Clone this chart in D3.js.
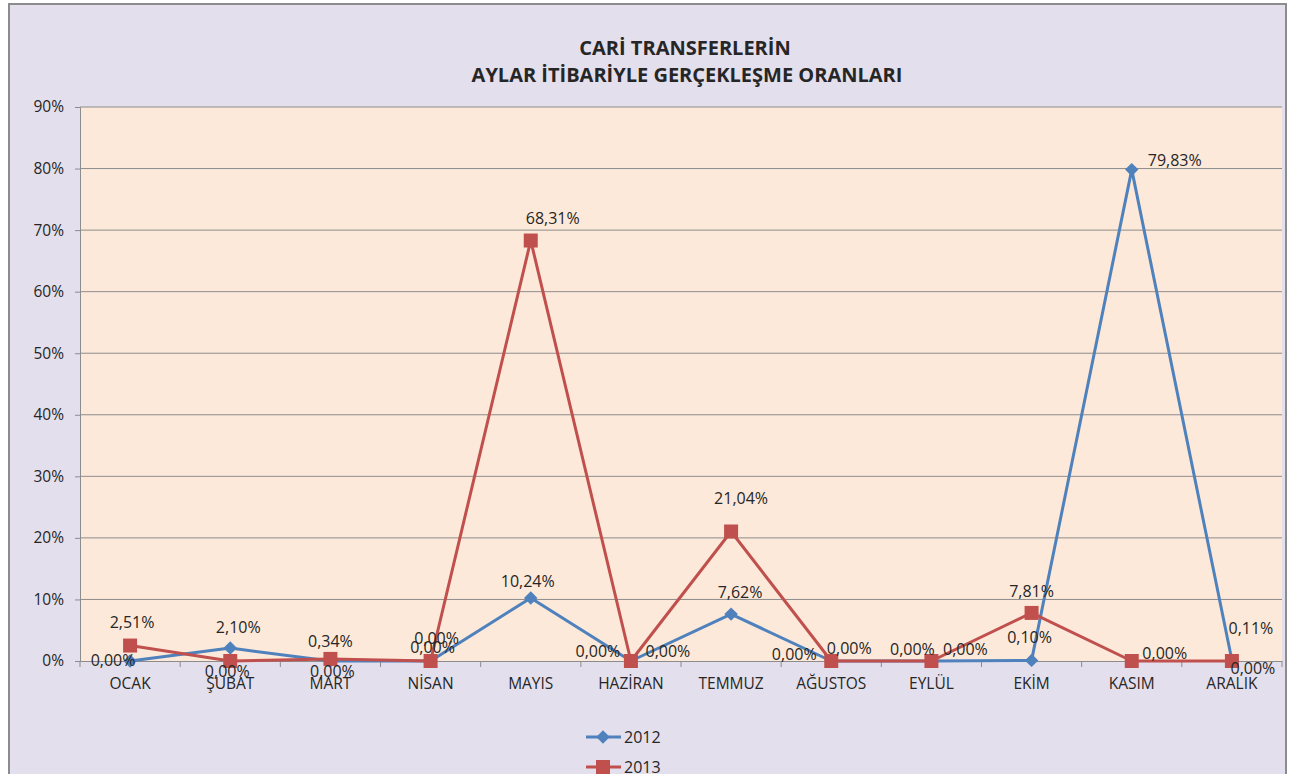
<!DOCTYPE html>
<html>
<head>
<meta charset="utf-8">
<script src="https://cdn.jsdelivr.net/npm/d3@7"></script>
<style>
  body { margin: 0; background: #fff; }
  svg text { font-family: "Open Sans", "Liberation Sans", sans-serif; fill: #262626; }
</style>
</head>
<body>
<svg id="chart" width="1296" height="774"></svg>
<script>
const months = ['OCAK', 'ŞUBAT', 'MART', 'NİSAN', 'MAYIS', 'HAZİRAN', 'TEMMUZ', 'AĞUSTOS', 'EYLÜL', 'EKİM', 'KASIM', 'ARALIK'];
const values2012 = [0.00, 2.10, 0.00, 0.00, 10.24, 0.00, 7.62, 0.00, 0.00, 0.10, 79.83, 0.11];
const values2013 = [2.51, 0.00, 0.34, 0.00, 68.31, 0.00, 21.04, 0.00, 0.00, 7.81, 0.00, 0.00];
const yTicks = [0, 10, 20, 30, 40, 50, 60, 70, 80, 90];

// label nudges (dx, dy of text middle from the marker), as the labels sit in the sheet
const labelNudge2012 = [[-17, -1], [8, -21], [2, 10], [2, -14], [-3, -17], [-33, -10],
                        [9, -22], [-37, -7], [-19, -12], [-2, -23], [43, -10], [19, -32]];
const labelNudge2013 = [[2, -24], [-3, 10], [0, -18], [6, -23], [22, -23], [37, -10],
                        [10, -33], [18, -13], [34, -12], [0, -22], [33, -8], [21, 7]];

const svg = d3.select('#chart');
const plot = { left: 80, right: 1282, top: 107, bottom: 661 };

// backgrounds
svg.append('rect').attr('x', 9).attr('y', 4).attr('width', 1277).attr('height', 800)
  .attr('fill', '#e4dfec').attr('stroke', '#8c8c8c').attr('stroke-width', 2);
svg.append('rect').attr('x', plot.left).attr('y', plot.top)
  .attr('width', plot.right - plot.left).attr('height', plot.bottom - plot.top)
  .attr('fill', '#fde9d9');

// title
const title = svg.append('text').attr('text-anchor', 'middle')
  .style('font-weight', 'bold').style('font-size', '20px');
title.append('tspan').attr('x', 685).attr('y', 55).text('CARİ TRANSFERLERİN');
title.append('tspan').attr('x', 687).attr('y', 82).text('AYLAR İTİBARİYLE GERÇEKLEŞME ORANLARI');

const x = d3.scaleBand().domain(months).range([plot.left, plot.right]);
const y = d3.scaleLinear().domain([0, 90]).range([plot.bottom, plot.top]);
const cx = m => x(m) + x.bandwidth() / 2;

// gridlines
svg.append('g').selectAll('line').data(yTicks.filter(d => d > 0)).join('line')
  .attr('x1', plot.left).attr('x2', plot.right)
  .attr('y1', d => y(d)).attr('y2', d => y(d))
  .attr('stroke', '#8c8c8c').attr('stroke-width', 1);

// y axis
const yAxis = svg.append('g').attr('transform', `translate(${plot.left},0)`)
  .call(d3.axisLeft(y).tickValues(yTicks).tickSize(5).tickPadding(11).tickFormat(d => d + '%'));
yAxis.select('.domain').attr('stroke', '#8c8c8c');
yAxis.selectAll('line').attr('stroke', '#8c8c8c');
yAxis.selectAll('text').style('font-size', '15.5px').style('font-family', '"Open Sans", sans-serif').attr('fill', '#262626');

// x axis
const xAxis = svg.append('g').attr('transform', `translate(0,${plot.bottom})`)
  .call(d3.axisBottom(x).tickSize(0).tickPadding(17));
xAxis.select('.domain').attr('stroke', '#8c8c8c');
xAxis.selectAll('text').style('font-size', '15.5px').style('font-family', '"Open Sans", sans-serif').attr('fill', '#262626');
xAxis.selectAll('line.sep').data(d3.range(months.length + 1)).join('line')
  .attr('class', 'sep')
  .attr('x1', i => plot.left + i * x.step()).attr('x2', i => plot.left + i * x.step())
  .attr('y1', 0).attr('y2', 6).attr('stroke', '#8c8c8c');

const series = [
  { name: '2012', values: values2012, color: '#4f81bd', marker: 'diamond', nudge: labelNudge2012 },
  { name: '2013', values: values2013, color: '#c0504d', marker: 'square', nudge: labelNudge2013 }
];

const line = d3.line().x((d, i) => cx(months[i])).y(d => y(d));

function drawMarker(g, s, px, py) {
  if (s.marker === 'diamond') {
    g.append('path').attr('d', d3.symbol().type(d3.symbolSquare).size(90)())
      .attr('transform', `translate(${px},${py}) rotate(45)`).attr('fill', s.color);
  } else {
    g.append('rect').attr('x', px - 7).attr('y', py - 7).attr('width', 14).attr('height', 14)
      .attr('fill', s.color);
  }
}

series.forEach(s => {
  svg.append('path').datum(s.values).attr('d', line)
    .attr('fill', 'none').attr('stroke', s.color).attr('stroke-width', 3)
    .attr('stroke-linejoin', 'round');
});
series.forEach(s => {
  const g = svg.append('g');
  s.values.forEach((v, i) => drawMarker(g, s, cx(months[i]), y(v)));
});

const fmt = v => v.toFixed(2).replace('.', ',') + '%';
series.forEach(s => {
  svg.append('g').selectAll('text').data(s.values).join('text')
    .style('font-size', '16px')
    .attr('text-anchor', 'middle')
    .attr('x', (d, i) => cx(months[i]) + s.nudge[i][0])
    .attr('y', (d, i) => y(d) + s.nudge[i][1] + 6)
    .text(d => fmt(d));
});

// legend
const legend = svg.append('g');
series.forEach((s, i) => {
  const ly = 737 + i * 30;
  legend.append('line').attr('x1', 586).attr('x2', 621).attr('y1', ly).attr('y2', ly)
    .attr('stroke', s.color).attr('stroke-width', 3);
  drawMarker(legend, s, 603, ly);
  legend.append('text').attr('x', 624).attr('y', ly + 6).style('font-size', '16px').text(s.name);
});
</script>
</body>
</html>
